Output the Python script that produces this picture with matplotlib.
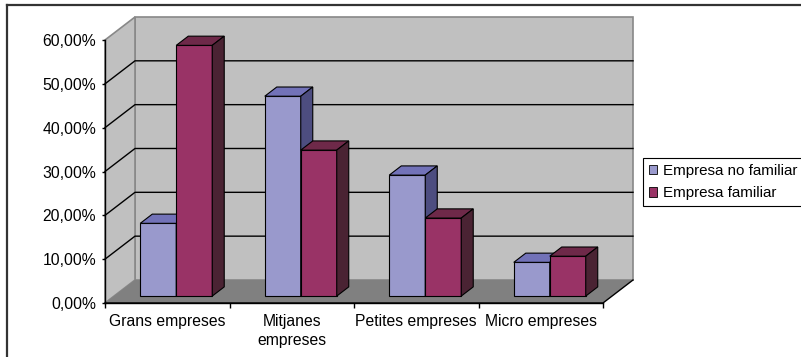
import matplotlib.pyplot as plt
from matplotlib.patches import Polygon
from matplotlib.lines import Line2D
import numpy as np

plt.rcParams['font.family'] = ['Liberation Sans', 'DejaVu Sans']

# Dades: percentatge d'empreses per mida
categories = ['Grans empreses', 'Mitjanes\nempreses', 'Petites empreses', 'Micro empreses']
no_familiar = [16.6, 45.6, 27.6, 7.7]
familiar = [57.2, 33.3, 17.8, 9.1]
series_names = ['Empresa no familiar', 'Empresa familiar']
y_ticks = [0, 10, 20, 30, 40, 50, 60]

# Colors estil Excel (cara frontal, superior, lateral)
blue = ('#9999CC', '#7272B8', '#4D4D80')
red = ('#993366', '#6E2949', '#4A2333')
wall_color = '#C0C0C0'
floor_color = '#808080'

# Perspectiva falsa: desplaçament de la profunditat en unitats de dades
DX = 0.241
DY = 5.25
D0, D1 = 0.3, 0.7   # profunditat de les barres dins del sòl
BAR_W = 0.289
YMAX = 60
FS = 11.3


def proj(x, y, d):
    return (x + d * DX, y + d * DY)


fig = plt.figure(figsize=(8.01, 3.57), dpi=100)
ax = fig.add_axes([105 / 801, 1 - 303 / 357, 498 / 801, 263 / 357])
ax.set_xlim(0, 4)
ax.set_ylim(0, YMAX)
ax.set_facecolor('none')

n = len(categories)

# Parets i sòl
floor = [proj(0, 0, 0), proj(n, 0, 0), proj(n, 0, 1), proj(0, 0, 1)]
back = [proj(0, 0, 1), proj(n, 0, 1), proj(n, YMAX, 1), proj(0, YMAX, 1)]
side = [proj(0, 0, 0), proj(0, 0, 1), proj(0, YMAX, 1), proj(0, YMAX, 0)]
ax.add_patch(Polygon(back, closed=True, facecolor=wall_color, edgecolor='#888888',
                     lw=1.2, clip_on=False, zorder=1))
ax.add_patch(Polygon(side, closed=True, facecolor=wall_color, edgecolor='#888888',
                     lw=1.2, clip_on=False, zorder=1))
ax.add_patch(Polygon(floor, closed=True, facecolor=floor_color, edgecolor='none',
                     clip_on=False, zorder=1))
# vores fosques del sòl
fx = [proj(0, 0, 0)[0], proj(n, 0, 0)[0], proj(n, 0, 1)[0]]
fy = [proj(0, 0, 0)[1], proj(n, 0, 0)[1], proj(n, 0, 1)[1]]
ax.plot(fx, fy, color='black', lw=1.0, clip_on=False, zorder=2)

# Línies de quadrícula a la paret del fons i a la lateral
for t in y_ticks[1:-1]:
    p0, p1, p2 = proj(0, t, 0), proj(0, t, 1), proj(n, t, 1)
    ax.plot([p0[0], p1[0], p2[0]], [p0[1], p1[1], p2[1]], color='black', lw=1.0,
            clip_on=False, zorder=2)


def draw_bar(x_left, value, colors):
    front, top, right = colors
    fx, fy = proj(x_left, 0, D0)
    ax.bar(fx, value, width=BAR_W, bottom=fy, align='edge', color=front,
           edgecolor='black', lw=0.8, zorder=3, clip_on=False)
    x_right = x_left + BAR_W
    top_face = [proj(x_left, value, D0), proj(x_right, value, D0),
                proj(x_right, value, D1), proj(x_left, value, D1)]
    side_face = [proj(x_right, 0, D0), proj(x_right, 0, D1),
                 proj(x_right, value, D1), proj(x_right, value, D0)]
    ax.add_patch(Polygon(top_face, closed=True, facecolor=top, edgecolor='black',
                         lw=0.8, zorder=3, clip_on=False))
    ax.add_patch(Polygon(side_face, closed=True, facecolor=right, edgecolor='black',
                         lw=0.8, zorder=3, clip_on=False))


for i in range(n):
    center = i + 0.5
    draw_bar(center - BAR_W, no_familiar[i], blue)
    draw_bar(center, familiar[i], red)

# Eixos
for s in ['top', 'right']:
    ax.spines[s].set_visible(False)
ax.spines['left'].set_zorder(4)
ax.spines['bottom'].set_zorder(4)
ax.spines['left'].set_linewidth(1.0)
ax.spines['bottom'].set_linewidth(1.0)

ax.set_yticks(y_ticks)
ax.set_yticklabels(['%d,00%%' % t for t in y_ticks], fontsize=FS)
ax.tick_params(axis='y', direction='out', length=2.5, width=1.0, pad=4)

ax.set_xticks(np.arange(n) + 0.5)
ax.set_xticklabels(categories, fontsize=FS, linespacing=1.3)
ax.set_xticks(np.arange(n + 1), minor=True)
ax.tick_params(axis='x', which='major', length=0, pad=8)
ax.tick_params(axis='x', which='minor', direction='out', length=3.5, width=1.0)

# Llegenda
handles = [plt.Rectangle((0, 0), 1, 1, facecolor=blue[0], edgecolor='black', lw=0.6),
           plt.Rectangle((0, 0), 1, 1, facecolor=red[0], edgecolor='black', lw=0.6)]
leg = fig.legend(handles, series_names, loc='upper left',
                 bbox_to_anchor=(643 / 801, 1 - 158 / 357), fontsize=10.9,
                 frameon=True, fancybox=False, edgecolor='black', framealpha=1,
                 handlelength=0.55, handleheight=0.55, handletextpad=0.35,
                 borderpad=0.4, labelspacing=0.55, borderaxespad=0)
leg.get_frame().set_linewidth(0.8)

# Marc de l'àrea del gràfic
fig.add_artist(Line2D([7 / 801, 1], [1 - 5 / 357, 1 - 5 / 357], color='#333333',
                      lw=1.6, transform=fig.transFigure))
fig.add_artist(Line2D([7 / 801, 7 / 801], [0, 1 - 5 / 357], color='#333333',
                      lw=1.6, transform=fig.transFigure))

fig.savefig('out.png', dpi=100)
